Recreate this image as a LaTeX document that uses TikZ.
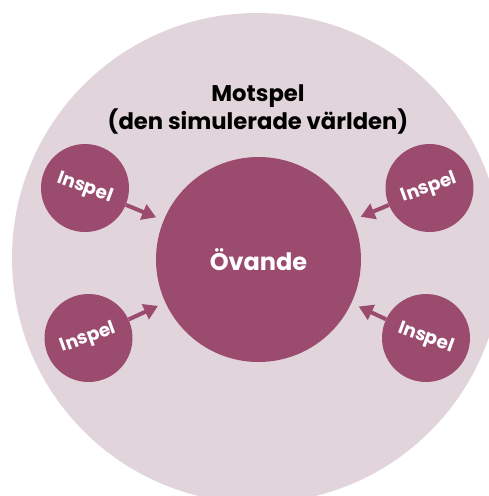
\documentclass[tikz,border=0pt]{standalone}
\usepackage{fontspec}
\setmainfont{Poppins}
\usetikzlibrary{arrows.meta}
\definecolor{plum}{RGB}{155,75,110}
\definecolor{mist}{RGB}{226,212,219}
\tikzset{
  world/.style={circle, fill=mist, minimum size=490pt, inner sep=0pt},
  core/.style={circle, fill=plum, minimum size=205pt, inner sep=0pt, text=white,
    font=\bfseries\fontsize{24}{28}\selectfont},
  input/.style={circle, fill=plum, minimum size=88pt, inner sep=0pt, text=white,
    font=\bfseries\fontsize{18.5}{22}\selectfont},
  push/.style={plum, line width=4pt, -{Triangle[length=14pt,width=16pt]}, shorten >=8pt},
  heading/.style={align=center, text=black, font=\bfseries\fontsize{22.7}{28}\selectfont}
}
\begin{document}
\begin{tikzpicture}[x=1pt,y=-1pt]
  \useasboundingbox (0,0) rectangle (489,496);
  \begin{scope}
    \clip (0,0) rectangle (489,496);
    \node[world] (w) at (257,258) {};
  \end{scope}
  \node[heading] (title) at (258,109) {Motspel\\(den simulerade världen)};
  \node[core] (ov) at (258.5,259.5) {Övande};
  \node[input, rotate=-20] (tl) at (85,188) {Inspel};
  \node[input, rotate=20] (tr) at (429.5,188) {Inspel};
  \node[input, rotate=20] (bl) at (88.5,338) {Inspel};
  \node[input, rotate=-20] (br) at (426,338) {Inspel};
  \draw[push] (tl) -- (ov);
  \draw[push] (tr) -- (ov);
  \draw[push] (bl) -- (ov);
  \draw[push] (br) -- (ov);
\end{tikzpicture}
\end{document}
